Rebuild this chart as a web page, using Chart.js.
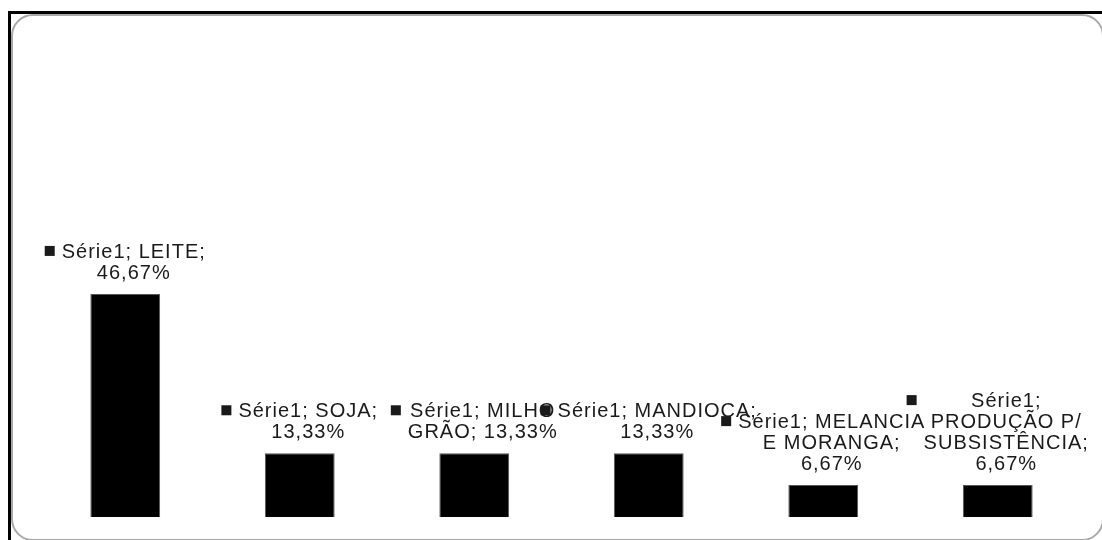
<!DOCTYPE html>
<html>
<head>
<meta charset="utf-8">
<script src="https://cdn.jsdelivr.net/npm/chart.js@4"></script>
<style>
  html, body { margin: 0; padding: 0; background: #fff; }
  body { width: 1102px; height: 540px; position: relative; overflow: hidden; }
  .outer {
    position: absolute; left: 8px; top: 11px; width: 1094px; height: 529px;
    border-top: 3px solid #000; border-left: 3px solid #000;
  }
  .inner {
    position: absolute; left: 0; top: 0; width: 1089px; height: 523px;
    border: 2px solid #a8a8a8; border-radius: 22px;
  }
  #grafico { position: absolute; left: 0; top: 0; }
</style>
</head>
<body>
<div class="outer"><div class="inner"></div></div>
<canvas id="grafico" width="1102" height="540"></canvas>
<script>
const seriesName = 'Série1'
const categories = ['LEITE', 'SOJA', 'MILHO GRÃO', 'MANDIOCA', 'MELANCIA E MORANGA', 'PRODUÇÃO P/ SUBSISTÊNCIA']
const values = [46.67, 13.33, 13.33, 13.33, 6.67, 6.67]

// wrapped data label text, {v} is replaced by the formatted value
const labelLines = [
  [seriesName + '; LEITE;', '{v}'],
  [seriesName + '; SOJA;', '{v}'],
  [seriesName + '; MILHO', 'GRÃO; {v}'],
  [seriesName + '; MANDIOCA;', '{v}'],
  [seriesName + '; MELANCIA', 'E MORANGA;', '{v}'],
  [seriesName + ';', 'PRODUÇÃO P/', 'SUBSISTÊNCIA;', '{v}']
]

function formatPct(v) {
  return v.toFixed(2).replace('.', ',') + '%'
}

// draws the "■ Série1; X; nn%" labels above each bar
const dataLabels = {
  id: 'dataLabels',
  afterDatasetsDraw(chart) {
    const ctx = chart.ctx
    const meta = chart.getDatasetMeta(0)
    const lineH = 21
    const keySize = 10
    const keyGap = 7
    ctx.save()
    ctx.font = '20px "Liberation Sans", Arial, sans-serif'
    ctx.letterSpacing = '1px'
    ctx.fillStyle = '#1a1a1a'
    ctx.textBaseline = 'alphabetic'
    meta.data.forEach((bar, i) => {
      const lines = labelLines[i].map(s => s.replace('{v}', formatPct(values[i])))
      const textW = Math.max(...lines.map(s => ctx.measureText(s).width))
      const total = keySize + keyGap + textW
      const left = bar.x - total / 2
      const textCx = left + keySize + keyGap + textW / 2
      const lastBase = bar.y - 15
      const firstBase = lastBase - (lines.length - 1) * lineH
      ctx.fillRect(left, firstBase - 12, keySize, keySize)
      ctx.textAlign = 'center'
      lines.forEach((s, j) => {
        ctx.fillText(s, textCx, firstBase + j * lineH)
      })
    })
    ctx.restore()
  }
}

new Chart(
  document.getElementById('grafico'),
  {
    type: 'bar',
    data: {
      labels: categories,
      datasets: [
        {
          label: seriesName,
          data: values,
          backgroundColor: '#000',
          borderColor: '#555',
          borderWidth: 1,
          categoryPercentage: 1,
          barPercentage: 0.4
        }
      ]
    },
    options: {
      responsive: false,
      animation: false,
      layout: {
        padding: { left: 38, right: 17, top: 39, bottom: 23 }
      },
      scales: {
        x: { display: false },
        y: { display: false, min: 0, max: 100 }
      },
      plugins: {
        legend: { display: false },
        tooltip: { enabled: false }
      }
    },
    plugins: [dataLabels]
  }
)
</script>
</body>
</html>
